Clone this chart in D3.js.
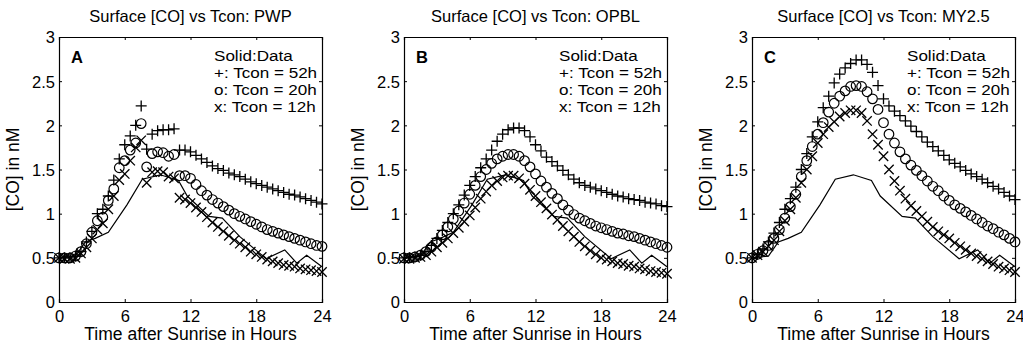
<!DOCTYPE html>
<html>
<head>
<meta charset="utf-8">
<script src="https://cdn.jsdelivr.net/npm/d3@7"></script>
<style>
  html, body { margin: 0; padding: 0; background: #fff; }
  svg { display: block; }
  text { font-family: "Liberation Sans", Arial, Helvetica, sans-serif; fill: #000; }
</style>
</head>
<body>
<svg id="chart" width="1023" height="347"></svg>
<script>
// ---------------- DATA ----------------
const panelTitles = ["Surface [CO] vs Tcon: PWP", "Surface [CO] vs Tcon: OPBL", "Surface [CO] vs Tcon: MY2.5"];
const panelLetters = ["A", "B", "C"];
const legendLines = ["Solid:Data", "+: Tcon = 52h", "o: Tcon = 20h", "x: Tcon = 12h"];
const xTicks = [0, 6, 12, 18, 24];
const yTicks = [0, 0.5, 1, 1.5, 2, 2.5, 3];
const yTickLabels = ["0", "0.5", "1", "1.5", "2", "2.5", "3"];
const xAxisTitle = "Time after Sunrise in Hours";
const yAxisTitle = "[CO] in nM";

// model output times (hours after sunrise)
const hours = [0, 0.5, 1, 1.5, 2, 2.5, 3, 3.5, 4, 4.5, 5, 5.5, 6, 6.5, 7, 7.5, 8, 8.5, 9, 9.5, 10, 10.5, 11, 11.5, 12,
  12.5, 13, 13.5, 14, 14.5, 15, 15.5, 16, 16.5, 17, 17.5, 18, 18.5, 19, 19.5, 20, 20.5, 21, 21.5, 22, 22.5, 23, 23.5, 24];

// observed data (solid line), same in every panel
const dataTimes = [0, 1.5, 2.4, 3.3, 4.5, 6.2, 7.6, 9.25, 10.9, 11.7, 13.7, 14.9, 16.5, 18.9, 20.6, 21.7, 22.6, 24];
const dataValues = [0.50, 0.52, 0.68, 0.72, 0.79, 1.10, 1.39, 1.44, 1.375, 1.20, 0.97, 0.95, 0.74, 0.49, 0.59, 0.44, 0.53, 0.40];

// Panel A: PWP
const pwpT52 = [0.50, 0.50, 0.50, 0.52, 0.57, 0.68, 0.80, 1.00, 1.05, 1.20, 1.38, 1.62, 1.78, 1.88, 2.00, 2.22, 1.73, 1.90, 1.94, 1.95, 1.95, 1.96, 1.72, 1.72, 1.70,
  1.66, 1.62, 1.58, 1.54, 1.51, 1.49, 1.46, 1.44, 1.42, 1.39, 1.36, 1.34, 1.32, 1.30, 1.28, 1.26, 1.24, 1.22, 1.21, 1.19, 1.17, 1.15, 1.13, 1.11];
const pwpT20 = [0.50, 0.50, 0.50, 0.52, 0.57, 0.66, 0.79, 0.92, 0.96, 1.15, 1.28, 1.52, 1.60, 1.72, 1.80, 2.02, 1.53, 1.68, 1.70, 1.69, 1.65, 1.67, 1.43, 1.43, 1.40,
  1.33, 1.26, 1.21, 1.16, 1.12, 1.08, 1.04, 1.00, 0.97, 0.94, 0.91, 0.88, 0.85, 0.82, 0.80, 0.78, 0.76, 0.74, 0.72, 0.70, 0.68, 0.66, 0.64, 0.63];
const pwpT12 = [0.50, 0.49, 0.49, 0.50, 0.55, 0.62, 0.72, 0.82, 0.89, 1.05, 1.20, 1.38, 1.45, 1.60, 1.75, 1.83, 1.35, 1.47, 1.48, 1.47, 1.42, 1.40, 1.18, 1.16, 1.12,
  1.07, 1.02, 0.96, 0.90, 0.85, 0.80, 0.75, 0.70, 0.66, 0.62, 0.57, 0.54, 0.51, 0.48, 0.46, 0.44, 0.42, 0.41, 0.40, 0.38, 0.37, 0.36, 0.35, 0.34];

// Panel B: OPBL
const opblT52 = [0.50, 0.50, 0.51, 0.53, 0.57, 0.64, 0.72, 0.81, 0.90, 1.00, 1.10, 1.21, 1.32, 1.42, 1.52, 1.62, 1.72, 1.82, 1.90, 1.95, 1.97, 1.97, 1.94, 1.87, 1.78,
  1.71, 1.64, 1.59, 1.54, 1.49, 1.44, 1.39, 1.35, 1.32, 1.30, 1.28, 1.26, 1.24, 1.22, 1.20, 1.19, 1.17, 1.16, 1.15, 1.13, 1.12, 1.11, 1.09, 1.08];
const opblT20 = [0.50, 0.50, 0.51, 0.53, 0.57, 0.62, 0.68, 0.76, 0.85, 0.94, 1.03, 1.12, 1.22, 1.32, 1.42, 1.50, 1.57, 1.62, 1.65, 1.67, 1.67, 1.65, 1.60, 1.53, 1.45,
  1.37, 1.30, 1.23, 1.17, 1.10, 1.04, 0.99, 0.95, 0.92, 0.89, 0.86, 0.84, 0.82, 0.80, 0.78, 0.77, 0.75, 0.74, 0.72, 0.70, 0.68, 0.66, 0.64, 0.62];
const opblT12 = [0.49, 0.49, 0.50, 0.51, 0.53, 0.57, 0.62, 0.67, 0.72, 0.78, 0.84, 0.91, 0.98, 1.07, 1.17, 1.25, 1.32, 1.37, 1.41, 1.43, 1.43, 1.40, 1.34, 1.27, 1.20,
  1.13, 1.06, 0.99, 0.93, 0.86, 0.80, 0.74, 0.68, 0.63, 0.58, 0.54, 0.50, 0.48, 0.46, 0.44, 0.43, 0.41, 0.40, 0.38, 0.37, 0.35, 0.34, 0.33, 0.32];

// Panel C: MY2.5
const myT52 = [0.50, 0.54, 0.60, 0.68, 0.78, 0.90, 1.05, 1.17, 1.30, 1.50, 1.68, 1.87, 2.04, 2.20, 2.33, 2.48, 2.58, 2.65, 2.70, 2.74, 2.74, 2.69, 2.60, 2.45, 2.30,
  2.22, 2.16, 2.11, 2.05, 1.99, 1.93, 1.87, 1.81, 1.76, 1.71, 1.66, 1.61, 1.57, 1.53, 1.49, 1.45, 1.42, 1.39, 1.35, 1.31, 1.28, 1.24, 1.20, 1.16];
const myT20 = [0.50, 0.54, 0.58, 0.64, 0.72, 0.82, 0.95, 1.08, 1.22, 1.42, 1.60, 1.76, 1.90, 2.03, 2.15, 2.25, 2.33, 2.39, 2.44, 2.45, 2.44, 2.38, 2.30, 2.18, 2.03,
  1.90, 1.80, 1.70, 1.62, 1.55, 1.49, 1.43, 1.37, 1.31, 1.26, 1.20, 1.15, 1.10, 1.06, 1.02, 0.98, 0.94, 0.90, 0.86, 0.83, 0.79, 0.76, 0.72, 0.68];
const myT12 = [0.50, 0.53, 0.57, 0.63, 0.70, 0.80, 0.92, 1.05, 1.18, 1.35, 1.50, 1.65, 1.80, 1.90, 1.98, 2.04, 2.10, 2.14, 2.17, 2.17, 2.14, 2.05, 1.90, 1.78, 1.65,
  1.50, 1.37, 1.26, 1.17, 1.09, 1.03, 0.97, 0.91, 0.85, 0.80, 0.76, 0.72, 0.67, 0.63, 0.59, 0.55, 0.52, 0.49, 0.46, 0.43, 0.40, 0.38, 0.36, 0.34];

const panelSeries = [
  [pwpT52, pwpT20, pwpT12],
  [opblT52, opblT20, opblT12],
  [myT52, myT20, myT12]
];
const markerKinds = ["plus", "circle", "cross"];

// ---------------- LAYOUT ----------------
const panelLeft = [59, 404, 752];
const panelTop = 37;
const panelW = 263;
const panelH = 265;

const svg = d3.select("#chart");
svg.append("rect").attr("width", 1023).attr("height", 347).attr("fill", "#fff");

const x = d3.scaleLinear().domain([0, 24]).range([0, panelW]);
const y = d3.scaleLinear().domain([0, 3]).range([panelH, 0]);

function markerPath(kind) {
  if (kind === "plus") return "M-5.5,0H5.5M0,-5.5V5.5";
  if (kind === "cross") return "M-4.7,-4.7L4.7,4.7M-4.7,4.7L4.7,-4.7";
  return null;
}

panelLeft.forEach((left, pi) => {
  const g = svg.append("g").attr("transform", `translate(${left},${panelTop})`);

  // data line
  const line = d3.line().x((d, i) => x(dataTimes[i])).y(d => y(d));
  g.append("path").datum(dataValues).attr("d", line)
    .attr("fill", "none").attr("stroke", "#000").attr("stroke-width", 1.2);

  // model series markers
  panelSeries[pi].forEach((vals, si) => {
    const kind = markerKinds[si];
    const sel = g.append("g").selectAll("g.m").data(vals).enter().append("g")
      .attr("transform", (d, i) => `translate(${x(hours[i])},${y(d)})`);
    if (kind === "circle") {
      sel.append("circle").attr("r", 4.8).attr("fill", "none").attr("stroke", "#000").attr("stroke-width", 1.2);
    } else {
      sel.append("path").attr("d", markerPath(kind)).attr("fill", "none").attr("stroke", "#000").attr("stroke-width", 1.3);
    }
  });

  // axes (inward ticks, box)
  const axB = d3.axisBottom(x).tickValues(xTicks).tickSize(-3).tickFormat(d => d);
  const axT = d3.axisTop(x).tickValues(xTicks).tickSize(-3).tickFormat("");
  const axL = d3.axisLeft(y).tickValues(yTicks).tickSize(-3).tickFormat((d, i) => yTickLabels[i]);
  const axR = d3.axisRight(y).tickValues(yTicks).tickSize(-3).tickFormat("");

  const gb = g.append("g").attr("transform", `translate(0,${panelH})`).call(axB);
  const gt = g.append("g").call(axT);
  const gl = g.append("g").call(axL);
  const gr = g.append("g").attr("transform", `translate(${panelW},0)`).call(axR);
  [gb, gt, gl, gr].forEach(a => {
    a.select(".domain").attr("stroke", "#000").attr("stroke-width", 1.2);
    a.selectAll(".tick line").attr("stroke", "#000").attr("stroke-width", 1);
  });
  gb.selectAll(".tick text").attr("font-size", 16.5).attr("y", 8).attr("dy", "0.71em");
  gl.selectAll(".tick text").attr("font-size", 16.5).attr("x", -4).attr("dy", "0.36em");

  // title
  svg.append("text").attr("x", left + panelW / 2).attr("y", 22)
    .attr("text-anchor", "middle").attr("font-size", 16.5).text(panelTitles[pi]);

  // axis titles
  svg.append("text").attr("x", left + panelW / 2).attr("y", 340)
    .attr("text-anchor", "middle").attr("font-size", 17.5).text(xAxisTitle);
  svg.append("text").attr("transform", `translate(${left - 40},${panelTop + panelH / 2}) rotate(-90)`)
    .attr("text-anchor", "middle").attr("font-size", 17.5).text(yAxisTitle);

  // panel letter
  g.append("text").attr("x", 12).attr("y", 26).attr("font-size", 16.5).attr("font-weight", "bold").text(panelLetters[pi]);

  // legend text (wide, tightly stacked as in the scan)
  legendLines.forEach((t, li) => {
    g.append("text")
      .attr("transform", `translate(${panelW - 108},${24 + li * 17}) scale(1.17,1)`)
      .attr("font-size", 14.6).text(t);
  });
});
</script>
</body>
</html>
